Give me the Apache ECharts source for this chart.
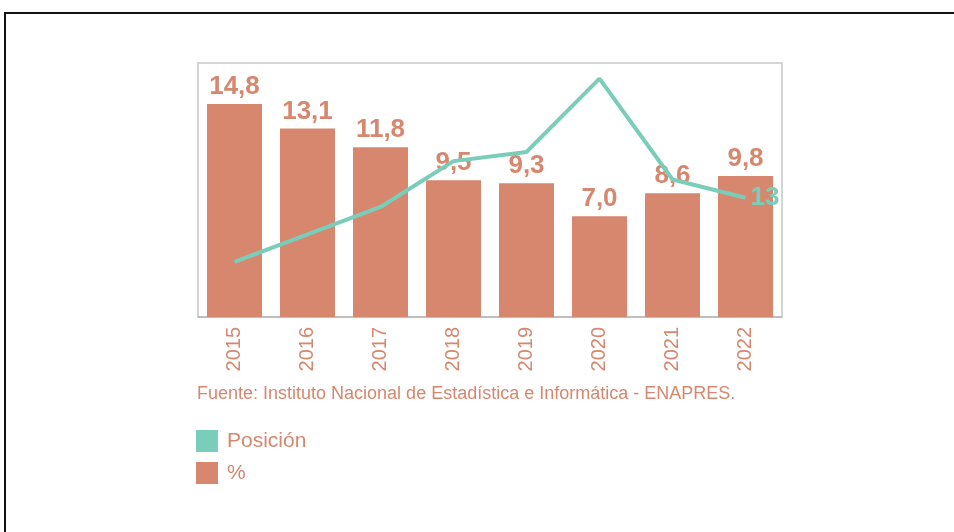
<!DOCTYPE html>
<html>
<head>
<meta charset="utf-8">
<script src="https://cdn.jsdelivr.net/npm/echarts@6/dist/echarts.min.js"></script>
<style>
  html, body { margin: 0; padding: 0; background: #fff; overflow: hidden; }
  #chart { width: 954px; height: 532px; }
  .frame {
    position: absolute;
    left: 4px;
    top: 12px;
    width: 1000px;
    height: 600px;
    border: 2px solid #111;
    pointer-events: none;
  }
</style>
</head>
<body>
<div id="chart"></div>
<div class="frame"></div>
<script>
// datos del gráfico
const years = ['2015', '2016', '2017', '2018', '2019', '2020', '2021', '2022']
const pct = [14.8, 13.1, 11.8, 9.5, 9.3, 7.0, 8.6, 9.8]
const posicion = [6, 9, 12, 17, 18, 26, 15, 13]
const fuente = 'Fuente: Instituto Nacional de Estadística e Informática - ENAPRES.'

const salmon = '#D6876E'
const teal = '#7ACDB9'

const myChart = echarts.init(document.getElementById('chart'))

const option = {
  animation: false,
  textStyle: { fontFamily: 'Liberation Sans, Arial, sans-serif' },
  grid: {
    left: 198,
    top: 63,
    width: 584,
    height: 254,
    show: true,
    borderColor: '#c8c8c8',
    borderWidth: 1.5,
  },
  legend: {
    orient: 'vertical',
    left: 196,
    top: 430,
    padding: 0,
    icon: 'rect',
    itemWidth: 22,
    itemHeight: 22,
    itemGap: 10,
    data: ['Posición', '%'],
    textStyle: {
      color: salmon,
      fontSize: 21,
      padding: [0, 0, 0, 4],
    },
  },
  graphic: [
    {
      type: 'text',
      left: 197,
      top: 385,
      style: {
        text: fuente,
        fill: salmon,
        fontSize: 18,
        fontFamily: 'Liberation Sans, Arial, sans-serif',
      },
    },
  ],
  xAxis: {
    type: 'category',
    data: years,
    axisLine: { lineStyle: { color: '#b8b8b8', width: 1.5 } },
    axisTick: { length: 6, lineStyle: { color: '#b8b8b8', width: 1.5 } },
    axisLabel: {
      rotate: 90,
      margin: 10,
      color: salmon,
      fontSize: 20,
    },
  },
  yAxis: [
    { type: 'value', min: 0, max: 17.65, show: false },
    { type: 'value', min: 0, max: 27.7, show: false },
  ],
  series: [
    {
      name: '%',
      type: 'bar',
      data: pct,
      barWidth: 55,
      itemStyle: { color: salmon },
      label: {
        show: true,
        position: 'top',
        distance: 4,
        color: salmon,
        fontSize: 26,
        fontWeight: 'bold',
        formatter: (p) => p.value.toFixed(1).replace('.', ','),
      },
      z: 2,
    },
    {
      name: 'Posición',
      type: 'line',
      yAxisIndex: 1,
      data: posicion,
      symbol: 'none',
      lineStyle: { color: teal, width: 4 },
      itemStyle: { color: teal },
      // solo el último punto lleva etiqueta
      endLabel: {
        show: true,
        distance: 5,
        color: teal,
        fontSize: 26,
        fontWeight: 'bold',
      },
      z: 3,
    },
  ],
}

myChart.setOption(option)
</script>
</body>
</html>
